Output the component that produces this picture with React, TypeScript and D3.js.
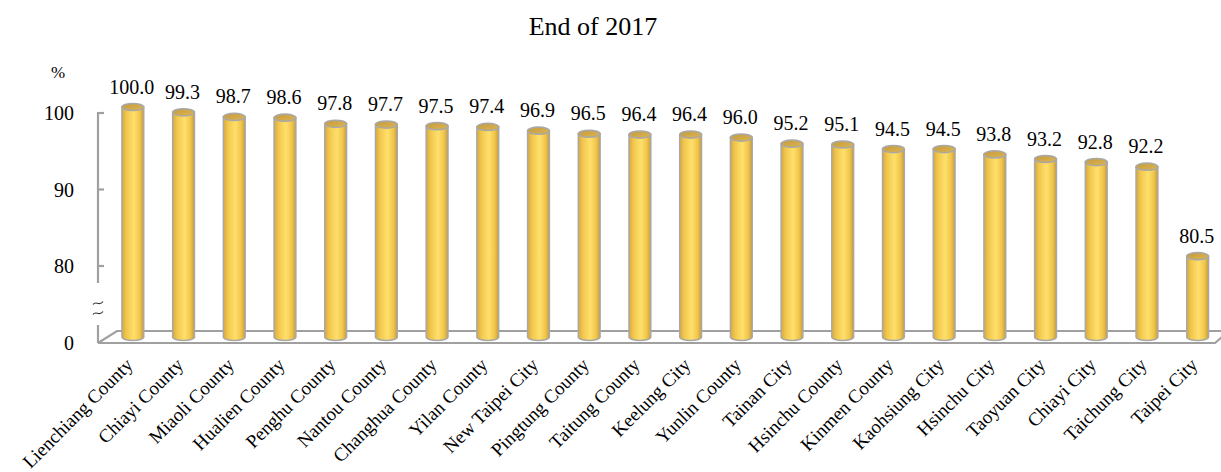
import React from "react";
import * as d3 from "d3";

const categories = [
  "Lienchiang County", "Chiayi County", "Miaoli County", "Hualien County", "Penghu County",
  "Nantou County", "Changhua County", "Yilan County", "New Taipei City", "Pingtung County",
  "Taitung County", "Keelung City", "Yunlin County", "Tainan City", "Hsinchu County",
  "Kinmen County", "Kaohsiung City", "Hsinchu City", "Taoyuan City", "Chiayi City",
  "Taichung City", "Taipei City",
];
const values = [
  100.0, 99.3, 98.7, 98.6, 97.8, 97.7, 97.5, 97.4, 96.9, 96.5, 96.4, 96.4, 96.0, 95.2, 95.1,
  94.5, 94.5, 93.8, 93.2, 92.8, 92.2, 80.5,
];
const tickValues = [0, 80, 90, 100];
const title = "End of 2017";
const unit = "%";

const W = 1221;
const H = 472;
const FONT = "'Times New Roman', 'Liberation Serif', serif";

export default function App() {
  const y = d3.scaleLinear().domain([0, 80, 100]).range([343, 266, 113]);
  const x = d3
    .scaleBand<string>()
    .domain(categories)
    .range([107.5, 1223])
    .paddingInner(0.57)
    .paddingOuter(0.285);
  const bw = x.bandwidth();
  const depth = 6;
  const rx = bw / 2;
  const ry = 3.6;
  const axisX = 98;

  const tildePath = (cy: number) =>
    `M ${axisX - 5} ${cy + 1.5} C ${axisX - 2} ${cy - 3}, ${axisX + 1} ${cy + 4}, ${axisX + 5} ${cy - 1.5}`;

  return (
    <svg width={W} height={H} style={{ position: "absolute", left: 0, top: 0 }} fontFamily={FONT}>
      <defs>
        <linearGradient id="cyl" x1="0" x2="1" y1="0" y2="0">
          <stop offset="0%" stopColor="#D9A93C" />
          <stop offset="22%" stopColor="#F2C84E" />
          <stop offset="55%" stopColor="#FFE06A" />
          <stop offset="82%" stopColor="#F0C54C" />
          <stop offset="100%" stopColor="#C89C34" />
        </linearGradient>
        <linearGradient id="capg" x1="0" x2="1" y1="0" y2="1">
          <stop offset="0%" stopColor="#C49B3E" />
          <stop offset="100%" stopColor="#DDB552" />
        </linearGradient>
      </defs>
      <rect width={W} height={H} fill="#fff" />

      <text x={593} y={35} textAnchor="middle" fontSize={26} fill="#000">{title}</text>
      <text x={58} y={78} textAnchor="middle" fontSize={17} fill="#000">{unit}</text>

      <g stroke="#A0A0A0" strokeWidth={2.2} fill="none">
        <path d={`M ${axisX} 343 L 1215 343 L 1222 337`} />
        <path d={`M ${axisX} 343 L 117 331 L 1221 331`} />
      </g>

      <g stroke="#A0A0A0" strokeWidth={2.2} fill="none">
        <line x1={axisX} x2={axisX} y1={y(100) - 1} y2={283} />
        <line x1={axisX} x2={axisX} y1={325} y2={343} />
        {tickValues.filter((t) => t > 0).map((t) => (
          <line key={t} x1={axisX} x2={axisX + 6} y1={y(t)} y2={y(t)} />
        ))}
      </g>
      <g stroke="#333" strokeWidth={1.2} fill="none">
        <path d={tildePath(303)} />
        <path d={tildePath(313)} />
      </g>
      {tickValues.map((t) => (
        <text key={t} x={74} y={y(t)} dy="0.35em" textAnchor="end" fontSize={20} fill="#000">
          {t}
        </text>
      ))}

      {categories.map((c, i) => {
        const v = values[i];
        const x0 = x(c)!;
        const cx = x0 + rx;
        const top = y(v) - depth;
        const bottom = y(0) - depth;
        const body = `M ${x0} ${top} L ${x0} ${bottom} A ${rx} ${ry} 0 0 0 ${x0 + bw} ${bottom} L ${x0 + bw} ${top} Z`;
        return (
          <g key={c}>
            <path d={body} fill="url(#cyl)" stroke="#A8A8A8" strokeWidth={1.5} />
            <ellipse cx={cx} cy={top} rx={rx} ry={ry} fill="url(#capg)" stroke="#A8A8A8" strokeWidth={1.5} />
            <text x={cx - 1} y={top - 13.5} textAnchor="middle" fontSize={20} fill="#000">
              {v.toFixed(1)}
            </text>
          </g>
        );
      })}

      {categories.map((c) => {
        const cx = x(c)! + rx;
        return (
          <text
            key={c}
            transform={`translate(${cx + 1},${366}) rotate(-45)`}
            textAnchor="end"
            fontSize={19}
            fill="#000"
          >
            {c}
          </text>
        );
      })}
    </svg>
  );
}
